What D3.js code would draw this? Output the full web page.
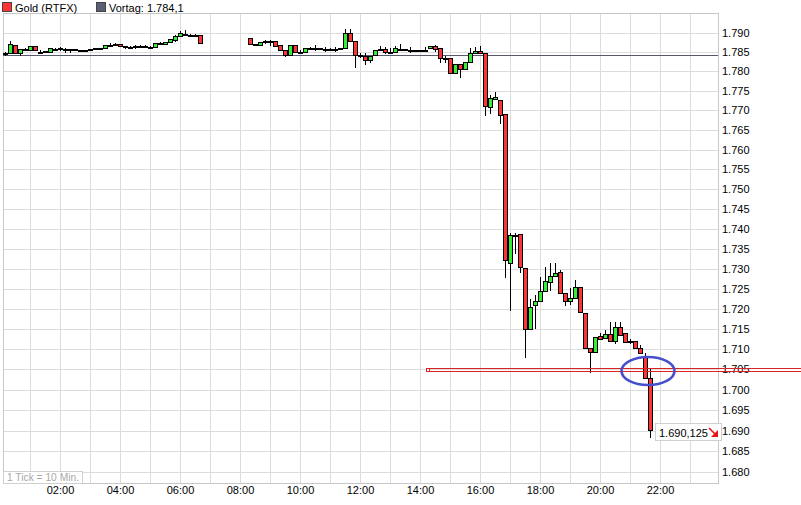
<!DOCTYPE html>
<html><head><meta charset="utf-8">
<script src="https://cdn.jsdelivr.net/npm/d3@7"></script>
<style>
body{margin:0;background:#fff}
svg{display:block}
text{font-family:"Liberation Sans",Arial,sans-serif;font-size:11px}
</style>
</head><body><svg id="c" width="801" height="505"></svg>
<script>
// ---- data ----
const times = ["00:10","00:20","00:30","00:40","00:50","01:00","01:10","01:20","01:30","01:40","01:50","02:00","02:10","02:20","02:30","02:40","02:50","03:00","03:10","03:20","03:30","03:40","03:50","04:00","04:10","04:20","04:30","04:40","04:50","05:00","05:10","05:20","05:30","05:40","05:50","06:00","06:10","06:20","06:30","06:40",
"08:20","08:30","08:40","08:50","09:00","09:10","09:20","09:30","09:40","09:50","10:00","10:10","10:20","10:30","10:40","10:50","11:00","11:10","11:20","11:30","11:40","11:50","12:00","12:10","12:20","12:30","12:40","12:50","13:00","13:10","13:20","13:30","13:40","13:50","14:00","14:10","14:20","14:30","14:40","14:50","15:00","15:10","15:20","15:30","15:40","15:50","16:00","16:10","16:20","16:30","16:40","16:50","17:00","17:10","17:20","17:30","17:40","17:50","18:00","18:10","18:20","18:30","18:40","18:50","19:00","19:10","19:20","19:30","19:40","19:50","20:00","20:10","20:20","20:30","20:40","20:50","21:00","21:10","21:20","21:30","21:40"];
const opens = [1.7846,1.7848,1.7867,1.7848,1.7857,1.7855,1.7866,1.7850,1.7851,1.7850,1.7858,1.7859,1.7858,1.7857,1.7858,1.7855,1.7854,1.7854,1.7859,1.7859,1.7859,1.7868,1.7870,1.7871,1.7865,1.7863,1.7866,1.7866,1.7866,1.7863,1.7863,1.7872,1.7870,1.7875,1.7881,1.7890,1.7896,1.7894,1.7894,1.7894,
1.7885,1.7870,1.7867,1.7877,1.7877,1.7877,1.7867,1.7855,1.7842,1.7868,1.7850,1.7850,1.7859,1.7860,1.7860,1.7858,1.7858,1.7858,1.7857,1.7861,1.7898,1.7878,1.7842,1.7839,1.7829,1.7841,1.7857,1.7857,1.7850,1.7850,1.7858,1.7857,1.7855,1.7855,1.7855,1.7855,1.7860,1.7865,1.7859,1.7835,1.7835,1.7796,1.7820,1.7805,1.7823,1.7846,1.7851,1.7846,1.7708,1.7728,1.7726,1.7690,1.7313,1.7384,1.7386,1.7301,1.7149,1.7209,1.7220,1.7243,1.7267,1.7281,1.7291,1.7238,1.7220,1.7226,1.7253,1.7189,1.7104,1.7094,1.7132,1.7127,1.7137,1.7121,1.7154,1.7139,1.7120,1.7121,1.7102,1.7080,1.7028];
const highs = [1.7850,1.7878,1.7867,1.7857,1.7859,1.7866,1.7866,1.7855,1.7852,1.7859,1.7861,1.7863,1.7859,1.7858,1.7858,1.7856,1.7855,1.7858,1.7860,1.7860,1.7868,1.7872,1.7874,1.7871,1.7866,1.7864,1.7869,1.7867,1.7867,1.7864,1.7872,1.7875,1.7875,1.7882,1.7893,1.7904,1.7906,1.7895,1.7895,1.7894,
1.7885,1.7871,1.7876,1.7881,1.7881,1.7877,1.7867,1.7855,1.7868,1.7868,1.7855,1.7859,1.7863,1.7868,1.7861,1.7863,1.7859,1.7863,1.7861,1.7908,1.7908,1.7878,1.7846,1.7846,1.7839,1.7855,1.7865,1.7862,1.7859,1.7865,1.7870,1.7858,1.7862,1.7856,1.7856,1.7862,1.7865,1.7868,1.7859,1.7840,1.7835,1.7820,1.7820,1.7823,1.7859,1.7863,1.7865,1.7846,1.7739,1.7746,1.7726,1.7690,1.7389,1.7388,1.7386,1.7301,1.7223,1.7234,1.7280,1.7305,1.7313,1.7313,1.7296,1.7238,1.7251,1.7272,1.7253,1.7190,1.7104,1.7129,1.7139,1.7147,1.7168,1.7168,1.7168,1.7139,1.7124,1.7121,1.7110,1.7090,1.7053];
const lows = [1.7843,1.7848,1.7846,1.7843,1.7855,1.7855,1.7855,1.7846,1.7850,1.7850,1.7855,1.7855,1.7850,1.7850,1.7855,1.7854,1.7851,1.7854,1.7858,1.7858,1.7859,1.7865,1.7869,1.7866,1.7861,1.7862,1.7861,1.7865,1.7865,1.7862,1.7863,1.7871,1.7870,1.7875,1.7879,1.7890,1.7895,1.7893,1.7893,1.7874,
1.7870,1.7869,1.7867,1.7872,1.7868,1.7866,1.7855,1.7839,1.7842,1.7850,1.7846,1.7850,1.7858,1.7855,1.7859,1.7852,1.7857,1.7853,1.7857,1.7861,1.7878,1.7812,1.7837,1.7820,1.7825,1.7841,1.7856,1.7846,1.7846,1.7850,1.7855,1.7856,1.7850,1.7854,1.7854,1.7854,1.7860,1.7853,1.7825,1.7825,1.7796,1.7796,1.7785,1.7805,1.7823,1.7846,1.7846,1.7688,1.7694,1.7728,1.7667,1.7280,1.7197,1.7338,1.7292,1.7080,1.7149,1.7153,1.7220,1.7243,1.7247,1.7281,1.7238,1.7209,1.7213,1.7226,1.7191,1.7104,1.7043,1.7094,1.7124,1.7127,1.7121,1.7116,1.7135,1.7118,1.7116,1.7102,1.7090,1.7030,1.6885];
const closes = [1.7847,1.7870,1.7848,1.7857,1.7857,1.7866,1.7855,1.7850,1.7851,1.7859,1.7858,1.7859,1.7858,1.7857,1.7855,1.7855,1.7854,1.7858,1.7859,1.7859,1.7868,1.7868,1.7870,1.7866,1.7865,1.7863,1.7866,1.7866,1.7866,1.7863,1.7872,1.7872,1.7875,1.7882,1.7890,1.7898,1.7896,1.7894,1.7894,1.7874,
1.7870,1.7870,1.7876,1.7877,1.7877,1.7866,1.7855,1.7842,1.7868,1.7850,1.7850,1.7859,1.7859,1.7860,1.7860,1.7858,1.7858,1.7858,1.7861,1.7898,1.7878,1.7842,1.7842,1.7829,1.7839,1.7855,1.7857,1.7850,1.7850,1.7859,1.7858,1.7857,1.7855,1.7855,1.7855,1.7855,1.7865,1.7857,1.7835,1.7835,1.7796,1.7820,1.7806,1.7823,1.7846,1.7851,1.7846,1.7711,1.7731,1.7733,1.7688,1.7321,1.7384,1.7384,1.7303,1.7149,1.7205,1.7219,1.7244,1.7269,1.7281,1.7288,1.7238,1.7219,1.7226,1.7255,1.7191,1.7104,1.7092,1.7129,1.7124,1.7137,1.7121,1.7154,1.7135,1.7118,1.7120,1.7102,1.7090,1.7030,1.690125];

const yTicks = [1.680,1.685,1.690,1.695,1.700,1.705,1.710,1.715,1.720,1.725,1.730,1.735,1.740,1.745,1.750,1.755,1.760,1.765,1.770,1.775,1.780,1.785,1.790];
const yTickLabels = ["1.680","1.685","1.690","1.695","1.700","1.705","1.710","1.715","1.720","1.725","1.730","1.735","1.740","1.745","1.750","1.755","1.760","1.765","1.770","1.775","1.780","1.785","1.790"];
const xGridHours = [1,2,3,4,5,6,7,8,9,10,11,12,13,14,15,16,17,18,19,20,21,22,23];
const xTickLabels = ["02:00","04:00","06:00","08:00","10:00","12:00","14:00","16:00","18:00","20:00","22:00"];
const seriesName = "Gold (RTFX)";
const prevClose = 1.7841;
const prevCloseLabel = "Vortag: 1.784,1";
const lastPriceLabel = "1.690,125";
const markLevels = [1.7054, 1.7046];
const markStart = "14:16";
const circleCenter = ["21:36", 1.7046];
const tickNote = "1 Tick = 10 Min.";

// ---- chart ----
const svg = d3.select("#c");
const X0 = 3, X1 = 718, Y0 = 13, Y1 = 483;
const hrs = s => { const [h, m] = s.split(":").map(Number); return h + m / 60; };
const x = d3.scaleLinear().domain([0, 24]).range([0, 720]);
const y = d3.scaleLog().domain([1.67726, 1.79505]).range([Y1, Y0]);
const ry = v => Math.round(y(v));
const GREEN = "#33ee33", RED = "#ff3333";

// grid
const grid = svg.append("g").attr("shape-rendering", "crispEdges");
grid.selectAll("line.h").data(yTicks.concat([1.795])).join("line")
  .attr("x1", X0).attr("x2", X1)
  .attr("y1", d => ry(d) + 0.5).attr("y2", d => ry(d) + 0.5)
  .attr("stroke", "#dcdcdc");
grid.selectAll("line.v").data(xGridHours).join("line")
  .attr("x1", d => x(d) + 0.5).attr("x2", d => x(d) + 0.5)
  .attr("y1", Y0).attr("y2", Y1)
  .attr("stroke", "#dcdcdc");
svg.append("rect").attr("x", X0 + 0.5).attr("y", Y0 + 0.5)
  .attr("width", X1 - X0).attr("height", Y1 - Y0)
  .attr("fill", "none").attr("stroke", "#c8c8c8").attr("shape-rendering", "crispEdges");

// y axis
const yAxis = d3.axisRight(y).tickValues(yTicks)
  .tickFormat((d, i) => yTickLabels[i]).tickSize(0).tickPadding(4);
const ga = svg.append("g").attr("transform", `translate(${X1},0)`).call(yAxis);
ga.select(".domain").remove();
ga.selectAll("text").attr("fill", "#000").style("font-size", "11px")
  .style("font-family", '"Liberation Sans",Arial,sans-serif');

// x axis
const xAxis = d3.axisBottom(x).tickValues(xTickLabels.map(hrs))
  .tickFormat((d, i) => xTickLabels[i]).tickSize(0).tickPadding(3);
const gx = svg.append("g").attr("transform", `translate(0,${Y1})`).call(xAxis);
gx.select(".domain").remove();
gx.selectAll("text").attr("fill", "#000").style("font-size", "11px")
  .style("font-family", '"Liberation Sans",Arial,sans-serif');

// previous close line
svg.append("line").attr("x1", X0).attr("x2", X1)
  .attr("y1", ry(prevClose) + 0.5).attr("y2", ry(prevClose) + 0.5)
  .attr("stroke", "#55596b").attr("shape-rendering", "crispEdges");

// candles
const candles = times.map((t, i) => ({t: hrs(t), o: opens[i], h: highs[i], l: lows[i], c: closes[i]}));
const cg = svg.append("g").attr("shape-rendering", "crispEdges");
cg.selectAll("line.w").data(candles).join("line")
  .attr("x1", d => Math.round(x(d.t)) + 0.5).attr("x2", d => Math.round(x(d.t)) + 0.5)
  .attr("y1", d => ry(d.h)).attr("y2", d => ry(d.l) + 1)
  .attr("stroke", "#000");
cg.selectAll("rect.b").data(candles).join("rect")
  .attr("x", d => Math.round(x(d.t)) - 1.5)
  .attr("width", 4)
  .attr("y", d => ry(Math.max(d.o, d.c)) + 0.5)
  .attr("height", d => Math.max(1, ry(Math.min(d.o, d.c)) - ry(Math.max(d.o, d.c))))
  .attr("fill", d => d.c >= d.o ? GREEN : RED)
  .attr("stroke", "#000");

// horizontal red mark lines
const mx = Math.round(x(hrs(markStart)));
svg.append("g").attr("shape-rendering", "crispEdges")
  .selectAll("line").data(markLevels).join("line")
  .attr("x1", mx).attr("x2", 801)
  .attr("y1", d => ry(d) + 0.5).attr("y2", d => ry(d) + 0.5)
  .attr("stroke", "#dd2222");
svg.append("rect").attr("x", mx - 1.5).attr("y", ry(markLevels[0]) + 0.5)
  .attr("width", 3).attr("height", ry(markLevels[1]) - ry(markLevels[0]))
  .attr("fill", "#fff").attr("stroke", "#dd2222").attr("shape-rendering", "crispEdges");

// blue ellipse
svg.append("ellipse").attr("cx", x(hrs(circleCenter[0]))).attr("cy", y(circleCenter[1]))
  .attr("rx", 26.5).attr("ry", 14).attr("fill", "none")
  .attr("stroke", "#4650cc").attr("stroke-width", 2.6);

// last price label
const last = closes[closes.length - 1];
const ly = ry(last);
svg.append("rect").attr("x", 655.5).attr("y", ly - 6.5).attr("width", 66).attr("height", 17)
  .attr("fill", "#fff").attr("stroke", "#d0d0d0").attr("shape-rendering", "crispEdges");
svg.append("text").attr("x", 659).attr("y", ly + 6.5).attr("fill", "#000").text(lastPriceLabel);
svg.append("line").attr("x1", 709).attr("y1", ly - 2).attr("x2", 715).attr("y2", ly + 4)
  .attr("stroke", "#ee1111").attr("stroke-width", 1.6);
svg.append("path").attr("d", `M718,${ly + 7}L718,${ly}L711,${ly + 7}Z`).attr("fill", "#ee1111");

// header legend
svg.append("rect").attr("x", 2.5).attr("y", 2.5).attr("width", 9).attr("height", 9)
  .attr("fill", RED).attr("stroke", "#444").attr("shape-rendering", "crispEdges");
svg.append("text").attr("x", 15).attr("y", 12).attr("fill", "#000").text(seriesName);
svg.append("rect").attr("x", 96.5).attr("y", 2.5).attr("width", 9).attr("height", 9)
  .attr("fill", "#5b6075").attr("stroke", "#444").attr("shape-rendering", "crispEdges");
svg.append("text").attr("x", 109).attr("y", 12).attr("fill", "#000").text(prevCloseLabel);

// tick note
svg.append("rect").attr("x", X0 + 0.5).attr("y", 471.5).attr("width", 79).attr("height", 11.5)
  .attr("fill", "#fff").attr("stroke", "#d0d0d0").attr("shape-rendering", "crispEdges");
svg.append("text").attr("x", 7).attr("y", 481).attr("fill", "#a8a8a8")
  .attr("textLength", 72).attr("lengthAdjust", "spacingAndGlyphs")
  .style("font-size", "10.5px").text(tickNote);
</script>
</body></html>
